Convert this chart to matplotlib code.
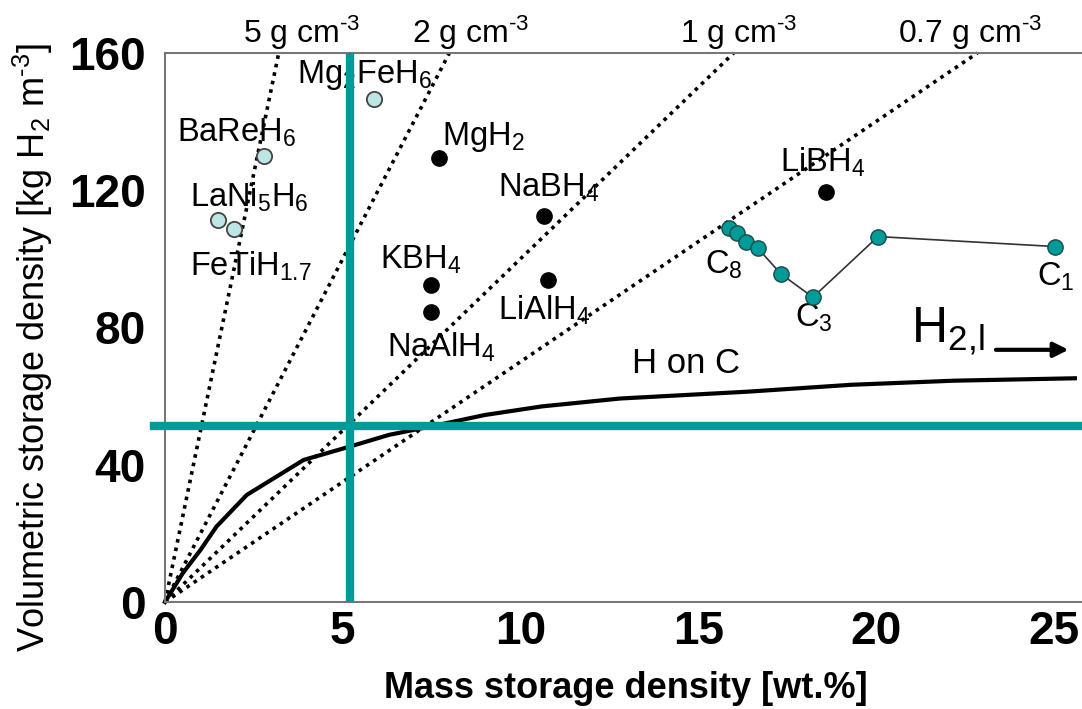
import matplotlib.pyplot as plt
import numpy as np

plt.rcParams['font.family'] = ['Liberation Sans', 'DejaVu Sans']
plt.rcParams['mathtext.fontset'] = 'custom'
plt.rcParams['mathtext.rm'] = 'Liberation Sans'
plt.rcParams['mathtext.bf'] = 'Liberation Sans:bold'
plt.rcParams['mathtext.default'] = 'regular'

# --- datos ---
# lineas de densidad del material [g cm-3]
densities = [5, 2, 1, 0.7]
density_labels = ['5 g cm$^{\u20103}$', '2 g cm$^{\u20103}$', '1 g cm$^{\u20103}$', '0.7 g cm$^{\u20103}$']

# hidruros intermetalicos (circulos claros)
light_names = ['Mg$_2$FeH$_6$', 'BaReH$_6$', 'LaNi$_5$H$_6$', 'FeTiH$_{1.7}$']
light_x = [5.88, 2.78, 1.50, 1.94]
light_y = [146.6, 130.0, 111.4, 108.7]

# hidruros complejos (puntos negros)
dark_names = ['MgH$_2$', 'NaBH$_4$', 'KBH$_4$', 'NaAlH$_4$', 'LiAlH$_4$', 'LiBH$_4$']
dark_x = [7.71, 10.67, 7.47, 7.47, 10.78, 18.6]
dark_y = [129.4, 112.5, 92.4, 84.6, 93.9, 119.6]

# hidrocarburos C8 ... C1
hc_names = ['C$_8$', 'C$_7$', 'C$_6$', 'C$_5$', 'C$_4$', 'C$_3$', 'C$_2$', 'C$_1$']
hc_x = [15.87, 16.09, 16.34, 16.68, 17.33, 18.23, 20.06, 25.03]
hc_y = [108.9, 107.5, 105.0, 103.1, 95.6, 88.8, 106.5, 103.6]

# curva "H on C"
hc_curve_x = [0, 0.5, 1.0, 1.45, 2.3, 3.9, 5.2, 6.3, 7.45, 9.0, 10.6, 12.8, 16.4, 19.3, 22.2, 25.6]
hc_curve_y = [0, 8.4, 15.2, 22.0, 31.2, 41.4, 45.3, 48.7, 51.1, 54.5, 57.0, 59.3, 61.3, 63.3, 64.5, 65.2]

# objetivos (lineas turquesa)
target_mass = 5.2
target_vol = 51.3

x_ticks = [0, 5, 10, 15, 20, 25]
y_ticks = [0, 40, 80, 120, 160]

teal = '#009b98'

fig = plt.figure(figsize=(10.82, 7.09), dpi=100)
ax = fig.add_axes([165 / 1082, 107 / 709, 917 / 1082, 549 / 709])
ax.set_xlim(0, 25.8)
ax.set_ylim(0, 160)

# lineas punteadas de densidad
for rho in densities:
    xe = 160 / (10 * rho)
    xs = np.array([0, xe])
    ax.plot(xs, 10 * rho * xs, color='black', lw=2.6, ls=(0, (1, 1.4)),
            zorder=2, clip_on=False)

# etiquetas de densidad sobre el eje
dens_label_x = [3.85, 8.6, 16.15, 22.65]
for lx, lab in zip(dens_label_x, density_labels):
    ax.text(lx, 166, lab, ha='center', va='center', fontsize=23, clip_on=False)

# curva H on C
ax.plot(hc_curve_x, hc_curve_y, color='black', lw=3, zorder=2, clip_on=False)
ax.text(13.15, 69.5, 'H on C', fontsize=25, va='center', ha='left', zorder=1)

# lineas objetivo
ax.axvline(target_mass, color=teal, lw=6, zorder=3)
ax.axhline(target_vol, color=teal, lw=6, zorder=3, xmin=-0.012, clip_on=False)

# puntos
ax.plot(light_x, light_y, 'o', ms=11, mfc='#bde5e5', mec='#444444', mew=1.3, zorder=4)
ax.plot(dark_x, dark_y, 'o', ms=11, color='black', zorder=4)
ax.plot(hc_x, hc_y, '-o', color='#333333', lw=1.2, ms=11, mfc=teal, mec='#1a4a4a',
        mew=1, zorder=4, clip_on=False)

# etiquetas de compuestos
light_label_pos = [(3.71, 153.6), (0.34, 136.7), (0.70, 118.0), (0.70, 97.7)]
for (tx, ty), lab in zip(light_label_pos, light_names):
    ax.text(tx, ty, lab, fontsize=23.5, ha='left', va='center', zorder=1)

dark_label_pos = [(7.79, 135.6), (9.37, 120.7), (6.05, 99.7), (6.24, 74.3), (9.37, 85.1), (17.3, 128.0)]
for (tx, ty), lab in zip(dark_label_pos, dark_names):
    ax.text(tx, ty, lab, fontsize=23.5, ha='left', va='center', zorder=1)

hc_label_idx = [0, 5, 7]
hc_label_pos = [(15.19, 98.3), (17.72, 82.8), (24.53, 94.8)]
for i, (tx, ty) in zip(hc_label_idx, hc_label_pos):
    ax.text(tx, ty, hc_names[i], fontsize=23.5, ha='left', va='center', zorder=1)

# H2 liquido
ax.text(21.0, 79, 'H$_{2,\\!l}$', fontsize=36, ha='left', va='center')
ax.annotate('', xy=(25.5, 73.5), xytext=(23.3, 73.5),
            arrowprops=dict(arrowstyle='-|>', color='black', lw=3, mutation_scale=22),
            annotation_clip=False)

# ejes
ax.set_xticks(x_ticks)
ax.set_yticks(y_ticks)
ax.tick_params(length=0, labelsize=33, pad=6)
ax.tick_params(axis='y', pad=14)
for t in ax.get_xticklabels() + ax.get_yticklabels():
    t.set_fontweight('bold')
for s in ['left', 'bottom', 'top']:
    ax.spines[s].set_color('#777777')
    ax.spines[s].set_linewidth(1.5)
ax.spines['right'].set_visible(False)

fig.text(626 / 1082, 1 - 689 / 709, 'Mass storage density [wt.%]', ha='center', va='center',
         fontsize=26, fontweight='bold')
fig.text(33 / 1082, 1 - 348 / 709, 'Volumetric storage density [kg H$_2$ m$^{\u20103}$]',
         ha='center', va='center', rotation=90, fontsize=26)

fig.savefig('out.png', dpi=100)
